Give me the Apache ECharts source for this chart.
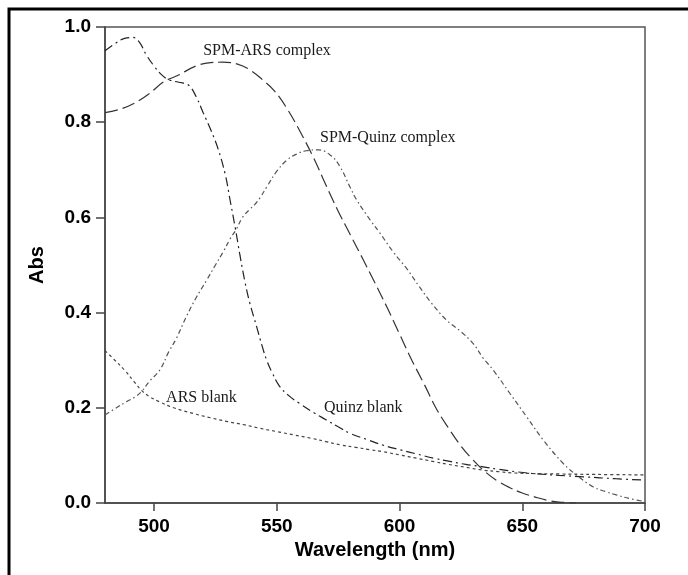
<!DOCTYPE html>
<html>
<head>
<meta charset="utf-8">
<script src="https://cdn.jsdelivr.net/npm/echarts@6/dist/echarts.min.js"></script>
<style>
  html, body { margin: 0; padding: 0; background: #fff; }
  #main { width: 688px; height: 575px; }
</style>
</head>
<body>
<div id="main"></div>
<script>
// wavelength (nm) / absorbance pairs
var arsComplexWl  = [480, 486, 492, 498, 504, 510, 517, 523, 528, 534, 539, 544, 549, 554, 559, 565, 570, 575, 580, 585, 590, 595, 600, 605, 610, 615, 620, 625, 630, 635, 640, 645, 650, 655, 660, 665, 672];
var arsComplexAbs = [0.82, 0.827, 0.84, 0.86, 0.885, 0.899, 0.918, 0.925, 0.926, 0.922, 0.91, 0.89, 0.866, 0.83, 0.785, 0.725, 0.668, 0.613, 0.563, 0.513, 0.462, 0.41, 0.355, 0.30, 0.25, 0.198, 0.157, 0.12, 0.09, 0.065, 0.046, 0.032, 0.021, 0.013, 0.006, 0.002, 0.0];

var quinzComplexWl  = [480, 484, 488.8, 492, 494.9, 498, 502.4, 506, 509, 513, 517, 521.4, 525, 528.2, 531, 533.6, 536, 539, 541, 543, 546, 550, 554, 558, 562, 567, 572, 575.7, 579.8, 582.5, 588, 592, 597.5, 603, 608, 613, 619, 625, 630, 634, 638.2, 645, 651.8, 658.6, 666.7, 672, 678.8, 684, 688.3, 694, 700];
var quinzComplexAbs = [0.185, 0.198, 0.213, 0.222, 0.234, 0.255, 0.28, 0.318, 0.345, 0.39, 0.43, 0.468, 0.5, 0.528, 0.555, 0.576, 0.6, 0.617, 0.627, 0.64, 0.665, 0.697, 0.72, 0.733, 0.74, 0.742, 0.73, 0.707, 0.664, 0.637, 0.595, 0.567, 0.527, 0.492, 0.455, 0.42, 0.385, 0.36, 0.335, 0.305, 0.279, 0.23, 0.181, 0.132, 0.083, 0.059, 0.034, 0.024, 0.017, 0.009, 0.003];

var quinzBlankWl  = [480, 484, 488, 491.5, 494, 497, 500, 503, 506, 510, 514, 517, 520, 523, 526, 529, 531, 533, 535, 537, 539, 541.8, 544, 546, 548, 551, 555, 559, 565, 570, 575, 580, 587, 593, 600, 607, 614, 620, 627, 634, 640, 647, 654, 665, 675, 688, 700];
var quinzBlankAbs = [0.95, 0.965, 0.976, 0.978, 0.968, 0.94, 0.918, 0.9, 0.889, 0.884, 0.878, 0.855, 0.82, 0.785, 0.745, 0.69, 0.635, 0.58, 0.52, 0.465, 0.42, 0.37, 0.33, 0.298, 0.275, 0.246, 0.225, 0.21, 0.19, 0.175, 0.16, 0.146, 0.133, 0.122, 0.112, 0.103, 0.094, 0.088, 0.081, 0.076, 0.071, 0.066, 0.062, 0.058, 0.055, 0.051, 0.048];

var arsBlankWl  = [480, 484, 488, 492, 495, 498, 502, 508, 516, 523, 530, 537, 543, 550, 557, 564, 570, 576, 582, 588, 593, 600, 607, 614, 620, 627, 634, 640, 647, 654, 665, 680, 700];
var arsBlankAbs = [0.32, 0.3, 0.279, 0.254, 0.236, 0.224, 0.213, 0.2, 0.188, 0.179, 0.171, 0.164, 0.157, 0.15, 0.143, 0.136, 0.129, 0.122, 0.117, 0.112, 0.108, 0.101, 0.094, 0.087, 0.081, 0.075, 0.069, 0.066, 0.063, 0.062, 0.061, 0.06, 0.059];

var xTicks = [500, 550, 600, 650, 700];

// curve annotations: text, wavelength and absorbance of the text's left/middle anchor
var curveLabels = [
    { text: 'SPM-ARS complex',   wl: 520,   abs: 0.95 },
    { text: 'SPM-Quinz complex', wl: 567.6, abs: 0.767 },
    { text: 'ARS blank',         wl: 504.9, abs: 0.221 },
    { text: 'Quinz blank',       wl: 569.2, abs: 0.20 }
];

function pairs(xs, ys) {
    return xs.map(function (x, i) { return [x, ys[i]]; });
}

function curve(name, xs, ys, dash, color) {
    return {
        name: name,
        type: 'line',
        data: pairs(xs, ys),
        smooth: 0.4,
        showSymbol: false,
        silent: true,
        lineStyle: { color: color, width: 1.2, type: dash }
    };
}

var chartDom = document.getElementById('main');
var myChart = echarts.init(chartDom);

var tickFont = {
    color: '#000',
    fontFamily: '"Liberation Sans", Arial, sans-serif',
    fontWeight: 'bold',
    fontSize: 19
};

var option = {
    animation: false,
    backgroundColor: '#fff',
    grid: {
        left: 105, right: 43, top: 27, bottom: 72,
        show: true,
        borderColor: '#555',
        borderWidth: 1.5
    },
    xAxis: {
        type: 'value',
        min: 480,
        max: 700,
        name: 'Wavelength (nm)',
        nameLocation: 'middle',
        nameGap: 36,
        nameTextStyle: {
            color: '#000',
            fontFamily: '"Liberation Sans", Arial, sans-serif',
            fontWeight: 'bold',
            fontSize: 20
        },
        axisLine: { show: true, lineStyle: { color: '#444', width: 1.5 } },
        axisTick: { show: true, length: 8, customValues: xTicks, lineStyle: { color: '#444', width: 1.5 } },
        axisLabel: Object.assign({ margin: 14, customValues: xTicks }, tickFont),
        splitLine: { show: false }
    },
    yAxis: {
        type: 'value',
        min: 0,
        max: 1,
        interval: 0.2,
        name: 'Abs',
        nameLocation: 'middle',
        nameGap: 58,
        nameRotate: 90,
        nameTextStyle: {
            color: '#000',
            fontFamily: '"Liberation Sans", Arial, sans-serif',
            fontWeight: 'bold',
            fontSize: 20
        },
        axisLine: { show: true, lineStyle: { color: '#444', width: 1.5 } },
        axisTick: { show: true, length: 9, lineStyle: { color: '#444', width: 1.5 } },
        axisLabel: Object.assign({
            margin: 14,
            formatter: function (v) { return v.toFixed(1); }
        }, tickFont),
        splitLine: { show: false }
    },
    series: [
        curve('SPM-ARS complex', arsComplexWl, arsComplexAbs, [13, 5], '#333'),
        curve('SPM-Quinz complex', quinzComplexWl, quinzComplexAbs, [5, 3, 1.5, 3], '#555'),
        curve('Quinz blank', quinzBlankWl, quinzBlankAbs, [9, 4, 2, 4], '#222'),
        curve('ARS blank', arsBlankWl, arsBlankAbs, [3, 3], '#444')
    ]
};

myChart.setOption(option);

// outer frame (left and top edges show in the picture) plus curve captions
var graphics = [{
    type: 'rect',
    shape: { x: 9, y: 9, width: 1000, height: 1000 },
    style: { fill: 'none', stroke: '#000', lineWidth: 3 },
    silent: true
}];
curveLabels.forEach(function (lab) {
    var p = myChart.convertToPixel({ gridIndex: 0 }, [lab.wl, lab.abs]);
    graphics.push({
        type: 'text',
        x: p[0],
        y: p[1],
        silent: true,
        style: {
            text: lab.text,
            fill: '#1a1a1a',
            font: '16px "Liberation Serif", "Times New Roman", serif',
            textAlign: 'left',
            textVerticalAlign: 'middle'
        }
    });
});
myChart.setOption({ graphic: graphics });
</script>
</body>
</html>
